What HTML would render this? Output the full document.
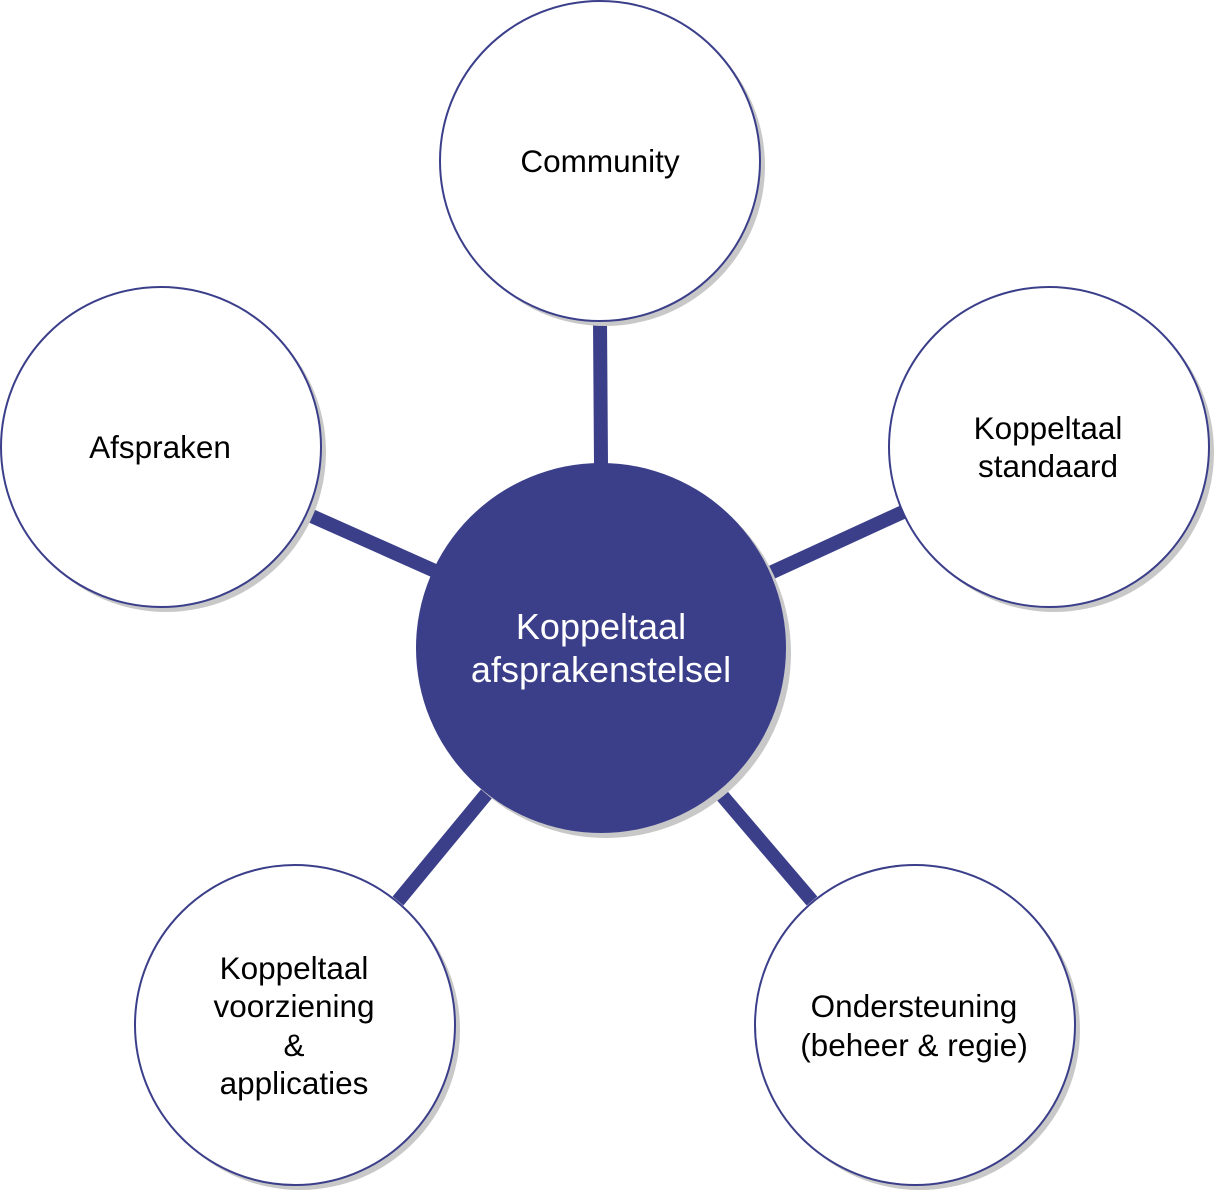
<!DOCTYPE html>
<html><head><meta charset="utf-8"><style>html,body{margin:0;padding:0;background:#fff} text{font-family:"Liberation Sans",Arial,sans-serif}</style></head>
<body>
<svg width="1214" height="1192" viewBox="0 0 1214 1192" xmlns="http://www.w3.org/2000/svg">
<g stroke="#3b3f8a" stroke-width="14">
<line x1="600" y1="320" x2="601" y2="465"/>
<line x1="307" y1="514" x2="435" y2="571"/>
<line x1="903" y1="512" x2="768" y2="574"/>
<line x1="398" y1="901" x2="488" y2="792"/>
<line x1="812" y1="901" x2="719" y2="792"/>
</g>
<g fill="#c8c8c8">
<circle cx="605" cy="166" r="160"/>
<circle cx="1054" cy="452" r="160"/>
<circle cx="166" cy="452" r="160"/>
<circle cx="300" cy="1030" r="160"/>
<circle cx="920" cy="1030" r="160"/>
<circle cx="606" cy="653" r="185"/>
</g>
<g fill="#fff" stroke="#3b3f8a" stroke-width="2">
<circle cx="600" cy="161" r="160"/>
<circle cx="1049" cy="447" r="160"/>
<circle cx="161" cy="447" r="160"/>
<circle cx="295" cy="1025" r="160"/>
<circle cx="915" cy="1025" r="160"/>
</g>
<circle cx="601" cy="648" r="185" fill="#3b3f8a"/>
<g font-size="31.5" text-anchor="middle" fill="#000">
<text x="600" y="172">Community</text>
<text x="1048" y="439">Koppeltaal</text>
<text x="1048" y="477">standaard</text>
<text x="160" y="458">Afspraken</text>
<text x="294" y="979">Koppeltaal</text>
<text x="294" y="1017">voorziening</text>
<text x="294" y="1056">&amp;</text>
<text x="294" y="1094">applicaties</text>
<text x="914" y="1017">Ondersteuning</text>
<text x="914" y="1056">(beheer &amp; regie)</text>
</g>
<g font-size="36" text-anchor="middle" fill="#fff">
<text x="601" y="639">Koppeltaal</text>
<text x="601" y="682">afsprakenstelsel</text>
</g>
</svg>
</body></html>
